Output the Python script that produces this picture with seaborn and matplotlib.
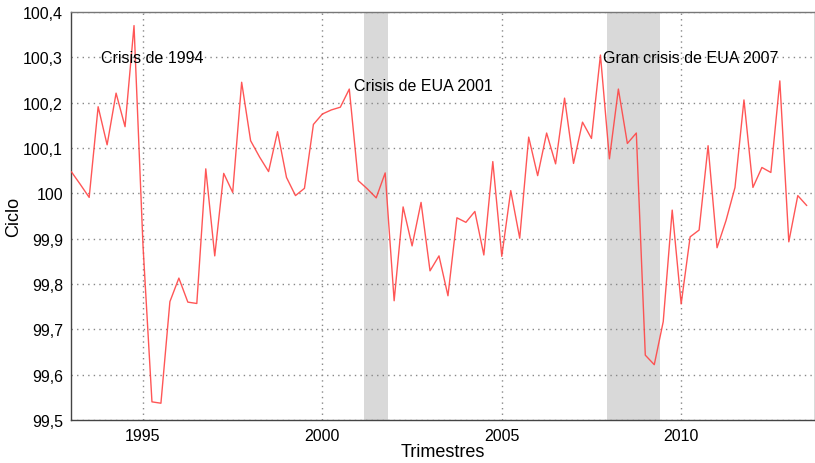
import matplotlib
matplotlib.use("Agg")
import matplotlib.pyplot as plt
import numpy as np
import pandas as pd
import seaborn as sns
from matplotlib.ticker import FuncFormatter, MultipleLocator

# Ciclo trimestral, 1993T1 - 2013T3
ciclo = [
    100.048, 100.020, 99.991, 100.191,
    100.107, 100.221, 100.147, 100.370,
    99.885, 99.540, 99.537, 99.761,
    99.813, 99.760, 99.757, 100.054,
    99.862, 100.044, 100.002, 100.245,
    100.116, 100.080, 100.048, 100.136,
    100.035, 99.995, 100.011, 100.152,
    100.175, 100.184, 100.190, 100.230,
    100.028, 100.010, 99.990, 100.045,
    99.763, 99.970, 99.884, 99.980,
    99.829, 99.862, 99.774, 99.946,
    99.936, 99.960, 99.864, 100.070,
    99.861, 100.006, 99.901, 100.124,
    100.039, 100.133, 100.065, 100.210,
    100.066, 100.157, 100.121, 100.305,
    100.076, 100.230, 100.110, 100.133,
    99.643, 99.622, 99.717, 99.963,
    99.756, 99.904, 99.919, 100.105,
    99.880, 99.940, 100.013, 100.206,
    100.013, 100.057, 100.046, 100.248,
    99.893, 99.995, 99.973,
]
trimestres = 1993 + np.arange(len(ciclo)) * 0.25

# recesiones (NBER) sombreadas
recesiones = [(2001.17, 2001.83), (2007.92, 2009.42)]

etiquetas = ["Crisis de 1994", "Crisis de EUA 2001", "Gran crisis de EUA 2007"]
etiqueta_x = [1993.82, 2000.88, 2007.83]
etiqueta_y = [100.3, 100.237, 100.3]

df = pd.DataFrame({"Trimestres": trimestres, "Ciclo": ciclo})

sns.set_style("white")
plt.rcParams["font.family"] = ["Liberation Sans", "DejaVu Sans"]
plt.rcParams["text.color"] = "black"
plt.rcParams["axes.labelcolor"] = "black"
plt.rcParams["xtick.labelcolor"] = "black"
plt.rcParams["ytick.labelcolor"] = "black"

fig = plt.figure(figsize=(8.15, 4.64), dpi=100)
ax = fig.add_axes([0.0874, 0.0927, 0.9126, 0.8793])

for ini, fin in recesiones:
    ax.axvspan(ini, fin, color="#d9d9d9", lw=0, zorder=0)

sns.lineplot(data=df, x="Trimestres", y="Ciclo", ax=ax,
             color="#ff4444", lw=1.0, alpha=0.9, zorder=3)

for txt, tx, ty in zip(etiquetas, etiqueta_x, etiqueta_y):
    ax.text(tx, ty, txt, fontsize=11.5, va="center", ha="left", zorder=4)

ax.set_xlim(1993, 2013.73)
ax.set_ylim(99.5, 100.4)
ax.xaxis.set_major_locator(MultipleLocator(5))
ax.yaxis.set_major_locator(MultipleLocator(0.1))


def coma(v, pos):
    s = f"{v:.1f}".replace(".", ",")
    return s[:-2] if s.endswith(",0") else s


ax.yaxis.set_major_formatter(FuncFormatter(coma))
ax.grid(True, linestyle=(0, (1, 3)), color="#888888", lw=1.0, zorder=1)
ax.set_axisbelow(True)

for lado in ["left", "bottom", "top", "right"]:
    ax.spines[lado].set_color("#444444")
    ax.spines[lado].set_linewidth(1.0)
ax.spines["top"].set_color("#777777")

ax.tick_params(axis="both", direction="in", length=4, width=0.8,
               color="#444444", labelsize=11.5, pad=6)
ax.set_xlabel("Trimestres", fontsize=13, labelpad=0)
ax.set_ylabel("Ciclo", fontsize=13)
ax.yaxis.set_label_coords(-0.066, 0.5)

fig.savefig("out.png", dpi=100)
